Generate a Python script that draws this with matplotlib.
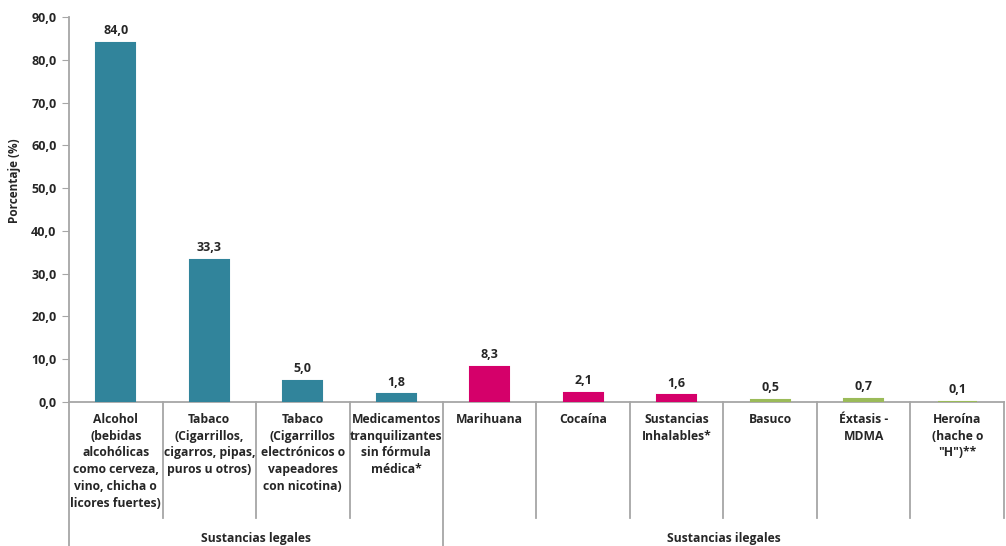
import numpy as np
import matplotlib.pyplot as plt
from matplotlib.ticker import FuncFormatter

plt.rcParams['font.family'] = ['Open Sans', 'DejaVu Sans']

# datos
categorias = [
    'Alcohol\n(bebidas\nalcohólicas\ncomo cerveza,\nvino, chicha o\nlicores fuertes)',
    'Tabaco\n(Cigarrillos,\ncigarros, pipas,\npuros u otros)',
    'Tabaco\n(Cigarrillos\nelectrónicos o\nvapeadores\ncon nicotina)',
    'Medicamentos\ntranquilizantes\nsin fórmula\nmédica*',
    'Marihuana',
    'Cocaína',
    'Sustancias\nInhalables*',
    'Basuco',
    'Éxtasis -\nMDMA',
    'Heroína\n(hache o\n"H")**',
]
valores = [84.0, 33.3, 5.0, 1.8, 8.3, 2.1, 1.6, 0.5, 0.7, 0.1]
tipo = ['legal', 'legal', 'legal', 'legal', 'ilegal', 'ilegal', 'ilegal',
        'otra', 'otra', 'otra']
grupos = ['Sustancias legales', 'Sustancias ilegales']
grupo_rango = [(0, 3), (4, 9)]

colores = {'legal': '#31849B', 'ilegal': '#D5006A', 'otra': '#9BBB59'}
gris = '#A6A6A6'
texto = '#262626'
fs = 8.7
fs_num = 9

fig = plt.figure(figsize=(10.06, 5.46), dpi=100)
ax = fig.add_axes([0.0686, 0.2637, 0.9294, 0.7052])

x = np.arange(len(valores))
cols = [colores[t] for t in tipo]
ax.bar(x, valores, width=0.42, color=cols, edgecolor=cols, linewidth=1.5,
       zorder=3)

for xi, v in zip(x, valores):
    ax.annotate(f'{v:.1f}'.replace('.', ','), (xi, v), xytext=(0, 4),
                textcoords='offset points', ha='center', va='bottom',
                fontsize=fs_num, fontweight='bold', color=texto)

ax.set_xlim(-0.5, len(valores) - 0.5)
ax.set_ylim(0, 90)
ax.set_yticks(np.arange(0, 91, 10))
ax.yaxis.set_major_formatter(FuncFormatter(lambda v, p: f'{v:.1f}'.replace('.', ',')))
ax.tick_params(axis='y', direction='out', length=5, color=gris,
               labelsize=fs_num, labelcolor=texto, pad=4)
for lab in ax.get_yticklabels():
    lab.set_fontweight('bold')
ax.set_xticks([])
ax.set_ylabel('Porcentaje (%)', fontsize=8.5, fontweight='bold', color=texto)
ax.yaxis.set_label_coords(-0.051, 0.574)

for s in ['top', 'right']:
    ax.spines[s].set_visible(False)
for s in ['left', 'bottom']:
    ax.spines[s].set_color(gris)
    ax.spines[s].set_linewidth(1.3)

trans = ax.get_xaxis_transform()
# etiquetas de categorías
for xi, c in zip(x, categorias):
    ax.text(xi, -0.028, c, transform=trans, ha='center', va='top',
            fontsize=fs, fontweight='bold', color=texto, linespacing=1.38)

# separadores entre categorías
grupo_bordes = [-0.5] + [b + 0.5 for _, b in grupo_rango]
for b in np.arange(-0.5, len(valores), 1.0):
    bajo = -0.375 if b in grupo_bordes[:-1] else -0.3
    ax.plot([b, b], [0, bajo], transform=trans, color=gris, lw=1.3,
            clip_on=False)

# etiquetas de grupo
for g, (a, b) in zip(grupos, grupo_rango):
    ax.text((a + b) / 2, -0.355, g, transform=trans, ha='center',
            va='center', fontsize=fs, fontweight='bold', color=texto)

fig.savefig('out.png', dpi=100)
